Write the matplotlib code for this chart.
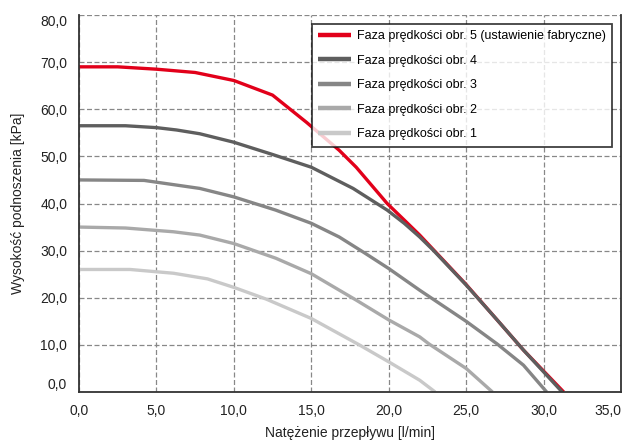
import matplotlib
matplotlib.use("Agg")
import matplotlib.pyplot as plt
from matplotlib.ticker import FuncFormatter

plt.rcParams['font.family'] = ['Liberation Sans Narrow', 'Liberation Sans', 'DejaVu Sans']

labels = [
    "Faza prędkości obr. 5 (ustawienie fabryczne)",
    "Faza prędkości obr. 4",
    "Faza prędkości obr. 3",
    "Faza prędkości obr. 2",
    "Faza prędkości obr. 1",
]
colors = ["#e2001a", "#5e5e5e", "#868686", "#a9a9a9", "#c9c9c9"]

x5 = [0, 2.5, 5, 7.5, 10, 12.5, 14.7, 16.8, 17.9, 19.9, 21, 22, 25, 27, 28.7, 31.3]
y5 = [69, 69, 68.5, 67.8, 66.1, 63.0, 57.2, 51.3, 47.7, 40.0, 36.5, 33.3, 22.8, 15.3, 8.9, 0]

x4 = [0, 3, 5, 6.3, 7.8, 10, 12.5, 15, 17.7, 19.9, 21, 22, 22.9, 25, 27, 28.7, 31.2]
y4 = [56.5, 56.5, 56.1, 55.6, 54.8, 53.0, 50.4, 47.7, 43.2, 38.6, 35.8, 32.9, 30.0, 22.7, 15.3, 8.9, 0]

x3 = [0, 4.2, 7.8, 10, 12.7, 15, 16.8, 18.4, 20, 22, 25, 27, 28.7, 30.2]
y3 = [45, 44.9, 43.2, 41.4, 38.6, 35.8, 32.9, 29.6, 26.2, 21.6, 15.0, 10.2, 5.7, 0]

x2 = [0, 3, 6.1, 7.8, 10, 12.7, 15, 17.9, 20, 22, 22.6, 25, 26.7]
y2 = [35, 34.8, 34.0, 33.3, 31.5, 28.4, 25.1, 19.5, 15.3, 11.7, 10.2, 5.0, 0]

x1 = [0, 3.3, 6.1, 8.3, 10, 12.1, 15, 18.1, 20, 22, 23]
y1 = [26, 26, 25.2, 24.0, 22.2, 19.7, 15.6, 10.0, 6.4, 2.5, 0]

xticks = [0, 5, 10, 15, 20, 25, 30, 35]
yticks = [0, 10, 20, 30, 40, 50, 60, 70, 80]
xlabel = "Natężenie przepływu [l/min]"
ylabel = "Wysokość podnoszenia [kPa]"

fig = plt.figure(figsize=(6.29, 4.43), dpi=100)
ax = fig.add_axes([79/629, 1 - 392/443, (621-79)/629, (392-15)/443])

series = [(x5, y5), (x4, y4), (x3, y3), (x2, y2), (x1, y1)]
for (xs, ys), c, lab in zip(series, colors, labels):
    ax.plot(xs, ys, color=c, lw=2.4, label=lab, solid_joinstyle='round', solid_capstyle='butt')

ax.set_xlim(0, 35)
ax.set_ylim(0, 80)
ax.set_xticks(xticks)
ax.set_yticks(yticks)
fmt = FuncFormatter(lambda v, p: f"{v:.1f}".replace(".", ","))
ax.xaxis.set_major_formatter(fmt)
ax.yaxis.set_major_formatter(fmt)
ax.tick_params(axis='both', length=0, labelsize=10, colors='#222222')
ax.tick_params(axis='x', pad=8.5)
ax.tick_params(axis='y', pad=8.5)
ax.grid(True, color='#888888', linestyle=(0, (4, 2)), linewidth=0.9)
ax.set_axisbelow(True)

ylabs = ax.get_yticklabels()
ylabs[0].set_verticalalignment('bottom')
ylabs[-1].set_verticalalignment('top')
xlabs = ax.get_xticklabels()
xlabs[-1].set_horizontalalignment('right')

for s in ['left', 'bottom', 'right']:
    ax.spines[s].set_color('#333333')
    ax.spines[s].set_linewidth(1.3)
ax.spines['top'].set_visible(False)

ax.set_xlabel(xlabel, fontsize=10, color='#222222', va='center')
ax.xaxis.set_label_coords(0.5, (392 - 433) / 377)
ax.set_ylabel(ylabel, fontsize=10, color='#222222', va='center')
ax.yaxis.set_label_coords((18 - 79) / 542, 0.5)

leg = ax.legend(loc='upper right', bbox_to_anchor=(612/629, 1 - 24/443),
                bbox_transform=fig.transFigure, frameon=True,
                fancybox=False, fontsize=9, handlelength=2.6, handletextpad=0.5,
                labelspacing=1.0, borderpad=0.5, borderaxespad=0)
leg.get_frame().set_edgecolor('#111111')
leg.get_frame().set_linewidth(1.3)
for line in leg.get_lines():
    line.set_linewidth(3.2)

fig.savefig("out.png", dpi=100)
